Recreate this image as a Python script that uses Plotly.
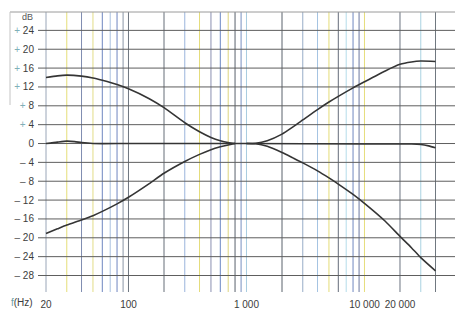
import plotly.graph_objects as go

# ---- data ----
grid_freqs = [20, 30, 40, 50, 60, 70, 80, 90, 100, 200, 300, 400, 500, 600, 700, 800, 900,
              1000, 2000, 3000, 4000, 5000, 6000, 7000, 8000, 9000, 10000, 20000, 30000, 40000]
db_ticks = [24, 20, 16, 12, 8, 4, 0, -4, -8, -12, -16, -20, -24, -28]
freq_ticks = [20, 100, 1000, 10000, 20000]
freq_labels = ["20", "100", "1 000", "10 000", "20 000"]

bass_f = [20, 25, 30, 40, 50, 60, 80, 100, 150, 200, 300, 400, 500, 600, 700, 800]
bass_boost_db = [14.0, 14.35, 14.5, 14.3, 13.9, 13.4, 12.5, 11.6, 9.5, 7.6, 4.4, 2.5, 1.3, 0.6, 0.2, 0.0]
bass_cut_db = [-19.1, -18.1, -17.3, -16.2, -15.3, -14.4, -12.8, -11.4, -8.5, -6.3, -3.8, -2.3, -1.3, -0.7, -0.3, 0.0]

flat_f = [20, 25, 30, 35, 40, 50, 100, 1000, 10000, 25000, 30000, 35000, 40000]
flat_db = [0.0, 0.3, 0.5, 0.4, 0.2, 0.0, 0.0, 0.0, -0.1, -0.1, -0.2, -0.5, -0.9]

treble_f = [1000, 1200, 1500, 2000, 2500, 3000, 4000, 5000, 6000, 8000, 10000, 15000, 20000, 25000, 30000, 40000]
treble_boost_db = [0.0, 0.05, 0.6, 2.0, 3.6, 5.0, 7.2, 8.8, 10.0, 11.8, 13.1, 15.4, 16.8, 17.3, 17.5, 17.4]
treble_cut_db = [0.0, -0.05, -0.6, -1.9, -3.1, -4.1, -5.8, -7.3, -8.6, -10.8, -12.7, -16.5, -19.7, -22.1, -24.2, -27.0]

# ---- styles ----
grid_color_map = {
    20: "#9aa6b8", 30: "#e6de78", 40: "#7f8db0", 50: "#e2dc86", 60: "#6f86c0", 70: "#a8c0e0",
    80: "#6f86c0", 90: "#8a96a8", 100: "#6e7680", 200: "#666e78", 300: "#9ab4dc", 400: "#e4dc7a",
    500: "#8a90b0", 600: "#6a86c4", 700: "#ddd47e", 800: "#58606c", 900: "#7890c0",
    1000: "#a8cce0", 2000: "#5a626c", 3000: "#98acc8", 4000: "#a4c4e2", 5000: "#e4dc78",
    6000: "#646c7a", 7000: "#b4dcea", 8000: "#7088c0", 9000: "#6a78a0", 10000: "#e6de7c",
    20000: "#6c7480", 30000: "#aad2e2", 40000: "#707880",
}
Y_MIN, Y_MAX = -31.5, 27.9
curve_color = "#353535"

fig = go.Figure()

# vertical graph-paper lines, grouped by colour
groups = {}
for f in grid_freqs:
    groups.setdefault(grid_color_map[f], []).append(f)
for col, fs in groups.items():
    xs, ys = [], []
    for f in fs:
        xs += [f, f, None]
        ys += [Y_MIN, Y_MAX, None]
    fig.add_trace(go.Scatter(x=xs, y=ys, mode="lines", line=dict(color=col, width=1),
                             hoverinfo="skip", showlegend=False))

# horizontal lines
xs, ys = [], []
for d in db_ticks:
    xs += [10, 100000, None]
    ys += [d, d, None]
fig.add_trace(go.Scatter(x=xs, y=ys, mode="lines", line=dict(color="#5e5e5e", width=1),
                         hoverinfo="skip", showlegend=False))

for fx, fy in [(bass_f, bass_boost_db), (bass_f, bass_cut_db), (flat_f, flat_db),
               (treble_f, treble_boost_db), (treble_f, treble_cut_db)]:
    fig.add_trace(go.Scatter(x=fx, y=fy, mode="lines",
                             line=dict(color=curve_color, width=1.6, shape="spline", smoothing=0.6),
                             hoverinfo="skip", showlegend=False))

def ylab(d):
    if d > 0:
        return '<span style="color:#7fb0b8">+</span> %d' % d
    if d < 0:
        return '<span style="color:#555">\u2013</span> %d' % (-d)
    return "0"

W, H = 455, 309
L, R, T, B = 38, 0, 12, 17
pw = W - L - R
ph = H - T - B

fig.update_layout(
    width=W, height=H,
    margin=dict(l=L, r=R, t=T, b=B, pad=0, autoexpand=False),
    paper_bgcolor="white", plot_bgcolor="white",
    font=dict(family="Liberation Sans, Arial, sans-serif", size=10, color="#3c3c3c"),
    xaxis=dict(type="log", range=[1.2332, 4.7672], showgrid=False, zeroline=False,
               tickmode="array", tickvals=freq_ticks, ticktext=freq_labels, tickangle=0,
               ticks="", showline=False, ticklabelstandoff=5, fixedrange=True, automargin=False),
    yaxis=dict(range=[Y_MIN, Y_MAX], showgrid=False, zeroline=False,
               tickmode="array", tickvals=db_ticks, ticktext=[ylab(d) for d in db_ticks],
               ticks="", showline=False, ticklabelstandoff=3, fixedrange=True, automargin=False),
    shapes=[
        dict(type="line", xref="paper", yref="paper", x0=(10 - L) / pw, x1=1, y0=1, y1=1,
             line=dict(color="#9a9a9a", width=1)),
        dict(type="line", xref="paper", yref="paper", x0=(10 - L) / pw, x1=(10 - L) / pw,
             y0=1, y1=(292 - 105) / ph, line=dict(color="#c4c4c4", width=1)),
    ],
    annotations=[
        dict(text="dB", xref="paper", yref="paper", x=(27 - L) / pw, y=(292 - 17) / ph,
             showarrow=False, font=dict(size=9, color="#555"), xanchor="center", yanchor="middle"),
        dict(text='<span style="color:#6aa0a8">f</span>(Hz)', xref="paper", yref="paper",
             x=(9 - L) / pw, y=-(302 - 292) / ph, showarrow=False, xanchor="left", yanchor="middle",
             font=dict(size=10, color="#3c3c3c")),
    ],
)

fig.write_html("out.html", config={"displayModeBar": False, "staticPlot": True},
               post_script="document.body.style.margin='0';document.body.style.overflow='hidden';")
